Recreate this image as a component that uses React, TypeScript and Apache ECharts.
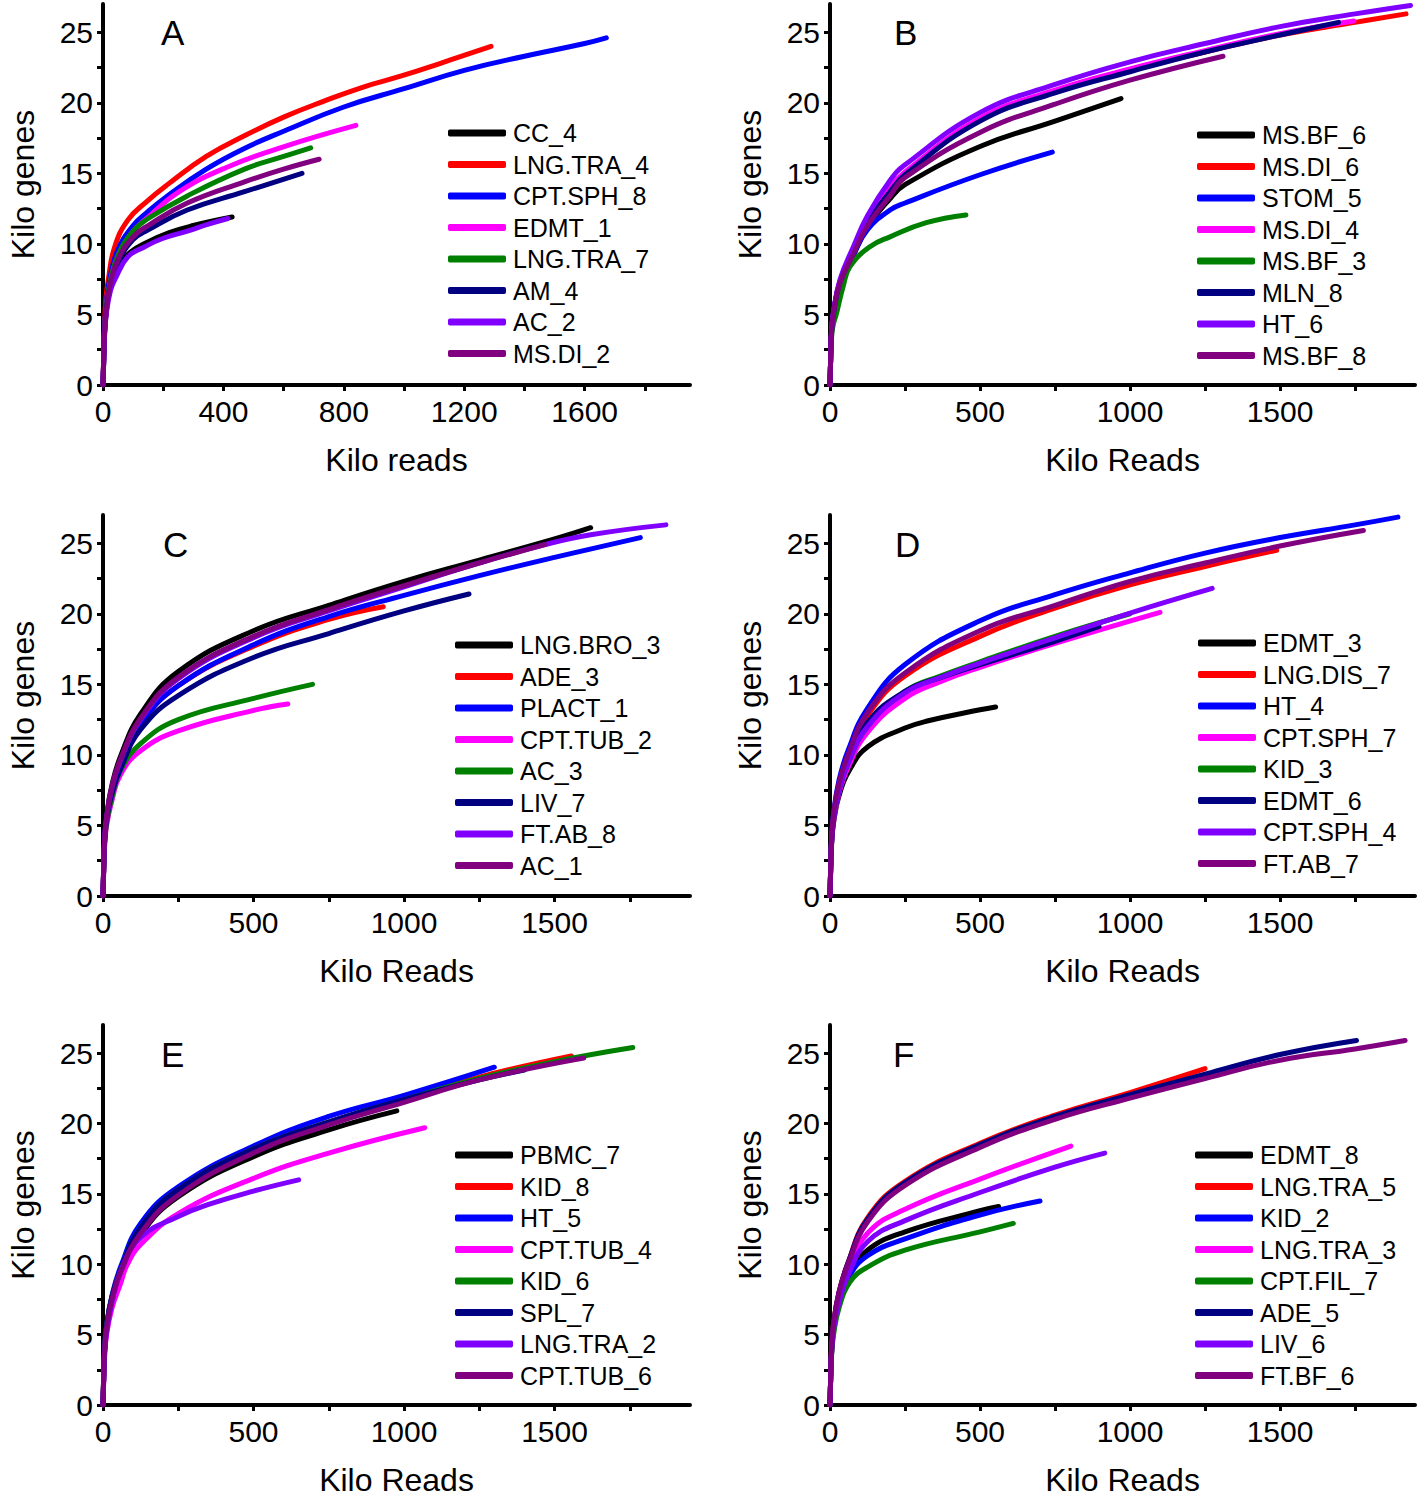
import React, { useEffect, useRef } from "react";
import * as echarts from "echarts";

const FONT = '"Liberation Sans", Arial, Helvetica, sans-serif';

const COLORS = ["#000000", "#ff0000", "#0000ff", "#ff00ff", "#008000", "#000080", "#8000ff", "#800080"];

// Axis ticks / labels
const X_TICKS_A = [0, 200, 400, 600, 800, 1000, 1200, 1400, 1600, 1800];
const X_LABELS_A = [0, 400, 800, 1200, 1600];
const X_TICKS = [0, 250, 500, 750, 1000, 1250, 1500, 1750];
const X_LABELS = [0, 500, 1000, 1500];
const Y_TICKS = [0, 2.5, 5, 7.5, 10, 12.5, 15, 17.5, 20, 22.5, 25];
const Y_LABELS = [0, 5, 10, 15, 20, 25];

// ---------- Panel A ----------
const A_NAMES = ["CC_4", "LNG.TRA_4", "CPT.SPH_8", "EDMT_1", "LNG.TRA_7", "AM_4", "AC_2", "MS.DI_2"];
const A_CC_4 = [[0, 0], [2, 1.5], [5, 3.6], [12, 5.4], [25, 7.0], [50, 8.4], [90, 9.4], [140, 10.05], [220, 10.8], [300, 11.3], [429, 11.9]];
const A_LNG_TRA_4 = [[0, 0], [2, 1.8], [5, 4.3], [10, 6.2], [17, 7.4], [39, 9.8], [83, 11.7], [145, 13.0], [214, 14.2], [343, 16.2], [473, 17.7], [602, 19.0], [732, 20.1], [862, 21.1], [991, 21.9], [1121, 22.8], [1289, 24.0]];
const A_CPT_SPH_8 = [[0, 0], [2, 1.7], [5, 4.0], [12, 6.0], [25, 7.8], [50, 9.6], [100, 11.3], [150, 12.3], [214, 13.4], [343, 15.3], [473, 16.8], [602, 18.0], [800, 19.7], [1000, 21.0], [1200, 22.3], [1400, 23.3], [1600, 24.2], [1672, 24.6]];
const A_EDMT_1 = [[0, 0], [2, 1.6], [5, 3.8], [12, 5.7], [25, 7.4], [50, 9.2], [100, 10.9], [150, 11.9], [253, 13.7], [408, 15.4], [602, 16.9], [840, 18.4]];
const A_LNG_TRA_7 = [[0, 0], [2, 1.6], [5, 3.8], [12, 5.7], [25, 7.4], [50, 9.2], [100, 10.9], [150, 11.8], [280, 13.4], [470, 15.3], [600, 16.2], [690, 16.8]];
const A_AM_4 = [[0, 0], [2, 1.5], [5, 3.6], [12, 5.5], [25, 7.1], [50, 8.7], [100, 10.3], [150, 11.0], [280, 12.4], [470, 13.7], [661, 15.0]];
const A_AC_2 = [[0, 0], [2, 1.4], [5, 3.4], [12, 5.2], [25, 6.7], [40, 7.5], [83, 9.1], [139, 9.8], [200, 10.4], [280, 10.9], [350, 11.4], [415, 11.8]];
const A_MS_DI_2 = [[0, 0], [2, 1.5], [5, 3.6], [12, 5.5], [25, 7.2], [50, 8.9], [100, 10.5], [150, 11.3], [280, 12.9], [470, 14.4], [600, 15.3], [718, 16.0]];

// ---------- Panel B ----------
const B_NAMES = ["MS.BF_6", "MS.DI_6", "STOM_5", "MS.DI_4", "MS.BF_3", "MLN_8", "HT_6", "MS.BF_8"];
const B_MS_BF_6 = [[0, 0], [2, 1.7], [5, 3.7], [11, 5.0], [33, 7.2], [78, 9.2], [125, 11.2], [200, 13.2], [250, 14.2], [500, 16.9], [750, 18.7], [970, 20.3]];
const B_MS_DI_6 = [[0, 0], [2, 1.7], [5, 3.7], [11, 5.0], [33, 7.3], [78, 9.5], [125, 11.6], [200, 13.9], [250, 15.0], [500, 18.8], [750, 20.8], [1000, 22.3], [1250, 23.6], [1500, 24.8], [1750, 25.7], [1920, 26.3]];
const B_STOM_5 = [[0, 0], [2, 1.7], [5, 3.6], [11, 4.9], [33, 7.0], [78, 9.2], [125, 11.0], [200, 12.4], [250, 12.9], [500, 14.9], [741, 16.5]];
const B_MS_DI_4 = [[0, 0], [2, 1.7], [5, 3.7], [11, 5.0], [33, 7.3], [78, 9.5], [125, 11.7], [200, 14.0], [250, 15.1], [500, 18.9], [750, 20.9], [1000, 22.4], [1250, 23.7], [1500, 24.9], [1746, 25.8]];
const B_MS_BF_3 = [[0, 0], [2, 1.6], [5, 3.3], [10, 4.2], [22, 5.1], [44, 7.0], [67, 8.4], [133, 9.8], [200, 10.5], [321, 11.5], [453, 12.05]];
const B_MLN_8 = [[0, 0], [2, 1.7], [5, 3.7], [11, 5.0], [33, 7.3], [78, 9.4], [125, 11.5], [200, 13.7], [250, 14.9], [500, 18.7], [750, 20.7], [1000, 22.2], [1250, 23.6], [1500, 24.8], [1695, 25.7]];
const B_HT_6 = [[0, 0], [2, 1.8], [5, 3.8], [11, 5.1], [33, 7.45], [78, 9.8], [125, 12.0], [200, 14.5], [250, 15.6], [500, 19.3], [750, 21.3], [1000, 22.9], [1250, 24.2], [1500, 25.4], [1750, 26.3], [1935, 26.9]];
const B_MS_BF_8 = [[0, 0], [2, 1.7], [5, 3.7], [11, 5.0], [33, 7.2], [78, 9.3], [125, 11.3], [200, 13.4], [250, 14.7], [500, 17.9], [750, 19.9], [1000, 21.6], [1310, 23.3]];

// ---------- Panel C ----------
const C_NAMES = ["LNG.BRO_3", "ADE_3", "PLACT_1", "CPT.TUB_2", "AC_3", "LIV_7", "FT.AB_8", "AC_1"];
const C_LNG_BRO_3 = [[0, 0], [2, 1.8], [5, 3.9], [12, 5.7], [30, 7.9], [60, 10.0], [125, 12.9], [250, 15.9], [500, 18.8], [750, 20.6], [1000, 22.3], [1250, 23.8], [1500, 25.3], [1620, 26.1]];
const C_ADE_3 = [[0, 0], [2, 1.8], [5, 3.8], [12, 5.5], [30, 7.5], [60, 9.4], [125, 12.2], [250, 14.9], [500, 17.7], [750, 19.6], [931, 20.5]];
const C_PLACT_1 = [[0, 0], [2, 1.8], [5, 3.8], [12, 5.5], [30, 7.5], [60, 9.4], [125, 12.2], [250, 14.9], [500, 17.8], [750, 19.8], [1000, 21.3], [1250, 22.7], [1500, 24.0], [1785, 25.4]];
const C_CPT_TUB_2 = [[0, 0], [2, 1.5], [5, 3.4], [12, 5.0], [30, 6.8], [58, 8.6], [125, 10.3], [250, 11.7], [500, 13.15], [614, 13.6]];
const C_AC_3 = [[0, 0], [2, 1.6], [5, 3.5], [12, 5.2], [30, 7.0], [58, 8.9], [125, 10.8], [250, 12.5], [500, 14.0], [696, 15.0]];
const C_LIV_7 = [[0, 0], [2, 1.7], [5, 3.7], [12, 5.4], [30, 7.3], [60, 9.1], [125, 11.8], [250, 14.2], [500, 16.9], [750, 18.6], [1000, 20.2], [1216, 21.4]];
const C_FT_AB_8 = [[0, 0], [2, 1.8], [5, 3.8], [12, 5.6], [30, 7.7], [60, 9.7], [125, 12.5], [250, 15.4], [500, 18.3], [750, 20.2], [1000, 21.9], [1250, 23.6], [1468, 24.9], [1620, 25.6], [1870, 26.3]];
const C_AC_1 = [[0, 0], [2, 1.8], [5, 3.8], [12, 5.6], [30, 7.8], [60, 9.8], [125, 12.6], [250, 15.5], [500, 18.4], [750, 20.3], [1000, 22.0], [1250, 23.6], [1468, 24.9]];

// ---------- Panel D ----------
const D_NAMES = ["EDMT_3", "LNG.DIS_7", "HT_4", "CPT.SPH_7", "KID_3", "EDMT_6", "CPT.SPH_4", "FT.AB_7"];
const D_EDMT_3 = [[0, 0], [2, 1.6], [5, 3.5], [12, 5.2], [30, 7.1], [67, 9.0], [127, 10.6], [250, 11.9], [324, 12.4], [500, 13.2], [552, 13.4]];
const D_LNG_DIS_7 = [[0, 0], [2, 1.8], [5, 3.9], [12, 5.7], [30, 7.9], [60, 9.9], [125, 12.8], [250, 15.6], [500, 18.4], [750, 20.4], [1000, 22.05], [1250, 23.35], [1489, 24.5]];
const D_HT_4 = [[0, 0], [2, 1.9], [5, 4.0], [12, 5.9], [30, 8.2], [60, 10.3], [125, 13.3], [250, 16.4], [500, 19.5], [750, 21.35], [1000, 22.9], [1250, 24.3], [1500, 25.4], [1750, 26.3], [1893, 26.85]];
const D_CPT_SPH_7 = [[0, 0], [2, 1.7], [5, 3.6], [12, 5.3], [30, 7.3], [60, 9.1], [125, 11.6], [250, 14.0], [370, 15.2], [500, 16.2], [750, 17.9], [1100, 20.1]];
const D_KID_3 = [[0, 0], [2, 1.7], [5, 3.7], [12, 5.5], [30, 7.5], [60, 9.4], [125, 12.0], [250, 14.5], [370, 15.6], [500, 16.6], [750, 18.4], [1000, 20.0]];
const D_EDMT_6 = [[0, 0], [2, 1.7], [5, 3.7], [12, 5.5], [30, 7.5], [60, 9.5], [125, 12.3], [250, 14.5], [370, 15.5], [500, 16.4], [750, 18.05], [897, 19.1]];
const D_CPT_SPH_4 = [[0, 0], [2, 1.7], [5, 3.7], [12, 5.5], [30, 7.5], [60, 9.4], [125, 12.0], [250, 14.4], [370, 15.5], [500, 16.5], [750, 18.3], [1000, 20.05], [1274, 21.8]];
const D_FT_AB_7 = [[0, 0], [2, 1.8], [5, 3.9], [12, 5.8], [30, 8.0], [60, 10.0], [125, 13.0], [250, 15.8], [500, 18.8], [750, 20.6], [1000, 22.3], [1250, 23.6], [1500, 24.8], [1778, 25.9]];

// ---------- Panel E ----------
const E_NAMES = ["PBMC_7", "KID_8", "HT_5", "CPT.TUB_4", "KID_6", "SPL_7", "LNG.TRA_2", "CPT.TUB_6"];
const E_PBMC_7 = [[0, 0], [2, 1.7], [5, 3.7], [12, 5.4], [30, 7.4], [60, 9.3], [125, 12.1], [250, 14.8], [500, 17.65], [750, 19.55], [976, 20.9]];
const E_KID_8 = [[0, 0], [2, 1.8], [5, 3.8], [12, 5.6], [30, 7.7], [60, 9.7], [125, 12.6], [250, 15.3], [500, 18.2], [750, 20.1], [1000, 21.7], [1250, 23.3], [1556, 24.8]];
const E_HT_5 = [[0, 0], [2, 1.8], [5, 3.9], [12, 5.7], [30, 7.8], [60, 9.9], [125, 12.9], [250, 15.5], [500, 18.4], [750, 20.5], [1000, 22.0], [1300, 24.0]];
const E_CPT_TUB_4 = [[0, 0], [2, 1.5], [5, 3.3], [12, 5.0], [30, 6.9], [58, 8.6], [80, 9.95], [125, 11.4], [250, 13.6], [500, 16.1], [750, 17.9], [1069, 19.7]];
const E_KID_6 = [[0, 0], [2, 1.8], [5, 3.8], [12, 5.6], [30, 7.7], [60, 9.7], [125, 12.6], [250, 15.3], [500, 18.2], [750, 20.1], [1000, 21.7], [1250, 23.2], [1500, 24.4], [1760, 25.4]];
const E_SPL_7 = [[0, 0], [2, 1.8], [5, 3.8], [12, 5.6], [30, 7.7], [60, 9.7], [125, 12.6], [250, 15.3], [500, 18.2], [750, 20.1], [1000, 21.7], [1250, 23.1], [1400, 23.8]];
const E_LNG_TRA_2 = [[0, 0], [2, 1.6], [5, 3.5], [12, 5.2], [30, 7.3], [60, 9.6], [125, 11.9], [250, 13.4], [343, 14.2], [500, 15.2], [650, 16.0]];
const E_CPT_TUB_6 = [[0, 0], [2, 1.7], [5, 3.7], [12, 5.5], [30, 7.5], [60, 9.5], [125, 12.2], [250, 14.9], [500, 17.9], [750, 19.9], [1000, 21.5], [1250, 23.1], [1597, 24.65]];

// ---------- Panel F ----------
const F_NAMES = ["EDMT_8", "LNG.TRA_5", "KID_2", "LNG.TRA_3", "CPT.FIL_7", "ADE_5", "LIV_6", "FT.BF_6"];
const F_EDMT_8 = [[0, 0], [2, 1.7], [5, 3.6], [12, 5.4], [30, 7.4], [60, 9.2], [125, 11.0], [250, 12.3], [500, 13.8], [562, 14.1]];
const F_LNG_TRA_5 = [[0, 0], [2, 1.8], [5, 3.9], [12, 5.8], [30, 8.0], [60, 10.1], [125, 13.3], [250, 15.9], [500, 18.6], [750, 20.6], [1000, 22.2], [1250, 23.9]];
const F_KID_2 = [[0, 0], [2, 1.7], [5, 3.6], [12, 5.3], [30, 7.2], [60, 9.0], [125, 10.6], [250, 11.8], [500, 13.5], [700, 14.5]];
const F_LNG_TRA_3 = [[0, 0], [2, 1.7], [5, 3.7], [12, 5.5], [30, 7.5], [60, 9.5], [125, 12.2], [250, 13.9], [500, 16.05], [803, 18.4]];
const F_CPT_FIL_7 = [[0, 0], [2, 1.6], [5, 3.4], [12, 5.0], [30, 6.9], [67, 8.75], [125, 9.8], [250, 11.0], [500, 12.3], [611, 12.9]];
const F_ADE_5 = [[0, 0], [2, 1.8], [5, 3.9], [12, 5.8], [30, 8.0], [60, 10.1], [125, 13.2], [250, 15.8], [500, 18.5], [750, 20.5], [1000, 22.05], [1250, 23.5], [1500, 24.9], [1755, 25.9]];
const F_LIV_6 = [[0, 0], [2, 1.7], [5, 3.6], [12, 5.4], [30, 7.3], [60, 9.2], [125, 11.6], [250, 13.1], [500, 15.1], [750, 16.9], [916, 17.9]];
const F_FT_BF_6 = [[0, 0], [2, 1.8], [5, 3.9], [12, 5.8], [30, 8.0], [60, 10.0], [125, 13.0], [250, 15.6], [500, 18.3], [750, 20.3], [1000, 21.8], [1250, 23.2], [1500, 24.5], [1750, 25.3], [1917, 25.9]];

const PANELS = [
  { letter: "A", names: A_NAMES, data: [A_CC_4, A_LNG_TRA_4, A_CPT_SPH_8, A_EDMT_1, A_LNG_TRA_7, A_AM_4, A_AC_2, A_MS_DI_2], xTicks: X_TICKS_A, xLabels: X_LABELS_A, xName: "Kilo reads" },
  { letter: "B", names: B_NAMES, data: [B_MS_BF_6, B_MS_DI_6, B_STOM_5, B_MS_DI_4, B_MS_BF_3, B_MLN_8, B_HT_6, B_MS_BF_8], xTicks: X_TICKS, xLabels: X_LABELS, xName: "Kilo Reads" },
  { letter: "C", names: C_NAMES, data: [C_LNG_BRO_3, C_ADE_3, C_PLACT_1, C_CPT_TUB_2, C_AC_3, C_LIV_7, C_FT_AB_8, C_AC_1], xTicks: X_TICKS, xLabels: X_LABELS, xName: "Kilo Reads" },
  { letter: "D", names: D_NAMES, data: [D_EDMT_3, D_LNG_DIS_7, D_HT_4, D_CPT_SPH_7, D_KID_3, D_EDMT_6, D_CPT_SPH_4, D_FT_AB_7], xTicks: X_TICKS, xLabels: X_LABELS, xName: "Kilo Reads" },
  { letter: "E", names: E_NAMES, data: [E_PBMC_7, E_KID_8, E_HT_5, E_CPT_TUB_4, E_KID_6, E_SPL_7, E_LNG_TRA_2, E_CPT_TUB_6], xTicks: X_TICKS, xLabels: X_LABELS, xName: "Kilo Reads" },
  { letter: "F", names: F_NAMES, data: [F_EDMT_8, F_LNG_TRA_5, F_KID_2, F_LNG_TRA_3, F_CPT_FIL_7, F_ADE_5, F_LIV_6, F_FT_BF_6], xTicks: X_TICKS, xLabels: X_LABELS, xName: "Kilo Reads" },
];

// layout
const COL_LEFT = [103, 830];
const COL_WIDTH = [587, 585];
const ROW_TOP = [4, 515, 1025];
const ROW_HEIGHT = 381;
const LEGEND_POS = [
  [448, 120], [1197, 122], [455, 632], [1198, 630], [455, 1142], [1195, 1142],
];
const LETTER_POS = [
  [173, 33], [906, 33], [175, 545], [907, 545], [173, 1055], [905, 1055],
];

function buildOption() {
  const grid: any[] = [];
  const xAxis: any[] = [];
  const yAxis: any[] = [];
  const series: any[] = [];
  const legend: any[] = [];
  const graphic: any[] = [];
  const plain = (v: number) => String(v);

  PANELS.forEach((p, i) => {
    const col = i % 2;
    const row = Math.floor(i / 2);
    grid.push({ left: COL_LEFT[col], top: ROW_TOP[row], width: COL_WIDTH[col], height: ROW_HEIGHT, containLabel: false });
    xAxis.push({
      type: "value",
      gridIndex: i,
      min: 0,
      max: 1950,
      interval: i === 0 ? 200 : 250,
      name: p.xName,
      nameLocation: "middle",
      nameGap: 59,
      nameTextStyle: { fontSize: 32, color: "#000", fontFamily: FONT },
      splitLine: { show: false },
      axisLine: { show: true, lineStyle: { color: "#000", width: 4 } },
      axisTick: { show: true, inside: false, length: 6, customValues: p.xTicks, lineStyle: { color: "#000", width: 3 } },
      axisLabel: { customValues: p.xLabels, formatter: plain, fontSize: 30, color: "#000", fontFamily: FONT, margin: 11 },
    });
    yAxis.push({
      type: "value",
      gridIndex: i,
      min: 0,
      max: 27,
      interval: 5,
      name: "Kilo genes",
      nameLocation: "middle",
      nameGap: 64,
      nameTextStyle: { fontSize: 32, color: "#000", fontFamily: FONT, padding: [0, 0, 0, 20] },
      splitLine: { show: false },
      axisLine: { show: true, lineStyle: { color: "#000", width: 4 } },
      axisTick: { show: true, inside: false, length: 6, customValues: Y_TICKS, lineStyle: { color: "#000", width: 3 } },
      axisLabel: { customValues: Y_LABELS, formatter: plain, fontSize: 30, color: "#000", fontFamily: FONT, margin: 10 },
    });
    p.names.forEach((name, k) => {
      series.push({
        type: "line",
        name,
        xAxisIndex: i,
        yAxisIndex: i,
        data: p.data[k],
        showSymbol: false,
        symbol: "none",
        smooth: 0.45,
        clip: true,
        lineStyle: { color: COLORS[k], width: 5, cap: "round", join: "round" },
        itemStyle: { color: COLORS[k] },
        emphasis: { disabled: true },
        z: 2 + k * 0.01,
      });
    });
    legend.push({
      data: p.names,
      orient: "vertical",
      left: LEGEND_POS[i][0],
      top: LEGEND_POS[i][1],
      padding: 0,
      itemWidth: 58,
      itemHeight: 7,
      itemGap: 5.5,
      icon: "roundRect",
      selectedMode: false,
      textStyle: { fontSize: 25, lineHeight: 26, color: "#000", fontFamily: FONT, padding: [0, 0, 0, 2] },
    });
    graphic.push({
      type: "text",
      left: LETTER_POS[i][0] - 12,
      top: LETTER_POS[i][1] - 18,
      style: { text: p.letter, fontSize: 35, fill: "#000", fontFamily: FONT },
    });
  });

  return {
    animation: false,
    backgroundColor: "#ffffff",
    textStyle: { fontFamily: FONT },
    grid,
    xAxis,
    yAxis,
    series,
    legend,
    graphic,
  };
}

export default function App() {
  const ref = useRef<HTMLDivElement>(null);
  useEffect(() => {
    document.body.style.margin = "0";
    if (!ref.current) return;
    const chart = echarts.init(ref.current, undefined, { renderer: "svg" });
    chart.setOption(buildOption());
    return () => {
      chart.dispose();
    };
  }, []);
  return <div ref={ref} style={{ width: 1418, height: 1497, background: "#fff" }} />;
}
